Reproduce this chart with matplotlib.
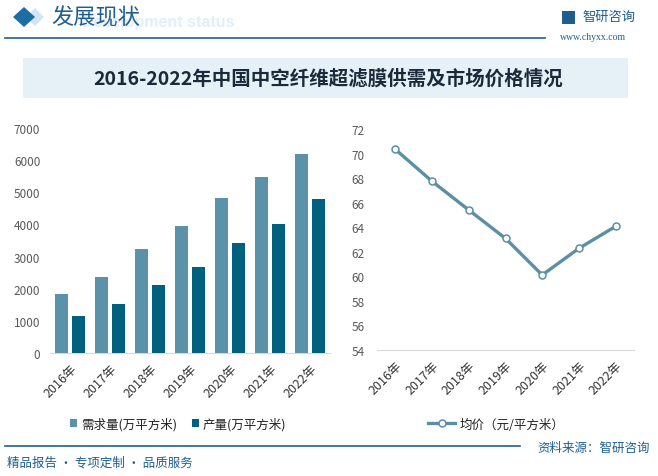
import matplotlib
matplotlib.use("Agg")
import matplotlib.pyplot as plt
from matplotlib.patches import Rectangle, Polygon
from matplotlib.lines import Line2D
import numpy as np

plt.rcParams['font.family'] = ['Noto Sans CJK SC', 'DejaVu Sans']

years = ["2016年", "2017年", "2018年", "2019年", "2020年", "2021年", "2022年"]
demand = [1850, 2375, 3250, 3960, 4830, 5460, 6200]
production = [1160, 1535, 2130, 2690, 3430, 4025, 4800]
price = [70.34, 67.74, 65.40, 63.09, 60.11, 62.28, 64.07]

c_demand = "#5b91a9"
c_prod = "#00607f"
c_line = "#5b8fa6"
tick_col = "#595959"

W, H = 658, 477
fig = plt.figure(figsize=(W / 100, H / 100), dpi=100)
fig.patch.set_facecolor("white")

def fx(px):
    return px / W

def fy(py):
    return 1 - py / H

# Header
fig.patches.append(Polygon([[fx(26), fy(18)], [fx(35), fy(9)], [fx(44), fy(18)], [fx(35), fy(27)]],
                           closed=True, transform=fig.transFigure, facecolor="#d3e5f2", edgecolor="none", zorder=0))
fig.patches.append(Polygon([[fx(13), fy(18)], [fx(24), fy(8)], [fx(35), fy(18)], [fx(24), fy(28)]],
                           closed=True, transform=fig.transFigure, facecolor="#1c6ea4", edgecolor="none"))
fig.text(fx(235), fy(23), "Development status", fontsize=11.5, color="#e2eef8", fontweight="bold",
         ha="right", va="center", zorder=0, family=["Liberation Sans"])
fig.text(fx(51), fy(18), "发展现状", fontsize=16, color="#1f5f8f", ha="left", va="center")
fig.add_artist(Line2D([fx(5), fx(545)], [fy(39), fy(39)], transform=fig.transFigure, color="#1f5f8f", lw=1.2))
fig.patches.append(Rectangle((fx(562), fy(25)), fx(13), 13 / H, transform=fig.transFigure,
                             facecolor="#1f5f8f", edgecolor="none"))
fig.text(fx(582), fy(17), "智研咨询", fontsize=9.5, color="#1f5f8f", ha="left", va="center")
fig.text(fx(560), fy(38), "www.chyxx.com", fontsize=7, color="#1f5f8f", ha="left", va="center",
         family=["Liberation Serif"])

# Title banner
fig.patches.append(Rectangle((fx(23), fy(99)), fx(605), 40 / H, transform=fig.transFigure,
                             facecolor="#e6f0f7", edgecolor="none"))
fig.text(fx(328), fy(79), "2016-2022年中国中空纤维超滤膜供需及市场价格情况", fontsize=14,
         fontweight="bold", color="#1a2a3a", ha="center", va="center")

# Bar axes
ax1 = fig.add_axes([fx(50), fy(354), fx(280), (354 - 129) / H])
x = np.arange(len(years))
ax1.bar(x - 0.21, demand, width=0.33, color=c_demand, label="需求量(万平方米)", zorder=3)
ax1.bar(x + 0.21, production, width=0.33, color=c_prod, label="产量(万平方米)", zorder=3)
ax1.set_xlim(-0.5, 6.5)
ax1.set_ylim(0, 7000)
ax1.set_yticks(range(0, 7001, 1000))
ax1.set_xticks(x)
ax1.set_xticklabels(years, rotation=45, ha="right", rotation_mode="anchor", fontsize=9, color="#333333")
ax1.tick_params(axis="y", length=0, labelsize=8.5, labelcolor=tick_col, pad=7)
ax1.tick_params(axis="x", length=0, pad=6)
for s in ["top", "right", "left"]:
    ax1.spines[s].set_visible(False)
ax1.spines["bottom"].set_color("#d9d9d9")
ax1.patch.set_alpha(0)
ax1.legend(loc="center", bbox_to_anchor=(fx(178), fy(425)), bbox_transform=fig.transFigure, ncol=2,
           frameon=False, fontsize=9, handlelength=0.6, handleheight=0.6, handletextpad=0.3,
           columnspacing=1.2, labelcolor="#222222")

# Line axes
ax2 = fig.add_axes([fx(377), fy(351), fx(257), (351 - 130) / H])
ax2.plot(x, price, color=c_line, lw=2.4, marker="o", markersize=5, markerfacecolor="white",
         markeredgecolor=c_line, markeredgewidth=1.1, label="均价（元/平方米）", zorder=3)
ax2.set_xlim(-0.5, 6.5)
ax2.set_ylim(54, 72)
ax2.set_yticks(range(54, 73, 2))
ax2.set_xticks(x)
ax2.set_xticklabels(years, rotation=45, ha="right", rotation_mode="anchor", fontsize=9, color="#333333")
ax2.tick_params(axis="y", length=0, labelsize=8.5, labelcolor=tick_col, pad=9)
ax2.tick_params(axis="x", length=0, pad=6)
for s in ["top", "right", "left"]:
    ax2.spines[s].set_visible(False)
ax2.spines["bottom"].set_color("#d9d9d9")
ax2.patch.set_alpha(0)
ax2.legend(loc="center", bbox_to_anchor=(fx(496), fy(425)), bbox_transform=fig.transFigure,
           frameon=False, fontsize=9, handlelength=2.2, handletextpad=0.3, labelcolor="#222222")

# Footer
fig.add_artist(Line2D([fx(5), fx(520)], [fy(447), fy(447)], transform=fig.transFigure, color="#1f5f8f", lw=1.2))
fig.text(fx(7), fy(463), "精品报告 · 专项定制 · 品质服务", fontsize=9, color="#1f5f8f", ha="left", va="center")
fig.text(fx(650), fy(448), "资料来源：智研咨询", fontsize=9, color="#1f5f8f", ha="right", va="center")

fig.savefig("out.png", dpi=100)
